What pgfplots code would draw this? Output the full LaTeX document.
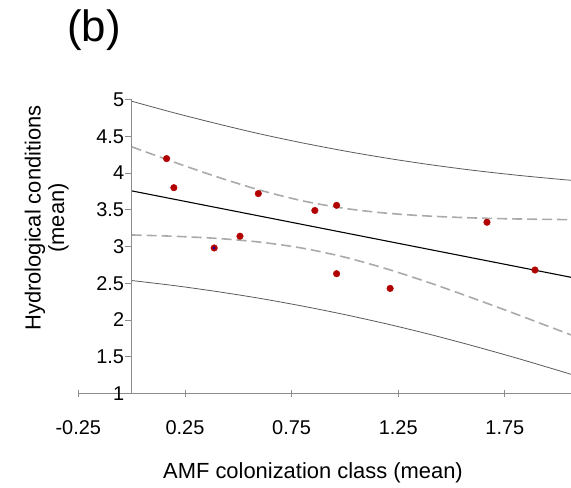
\documentclass[border=0pt]{standalone}
\usepackage{fontspec}
\setmainfont{Liberation Sans}
\usepackage{pgfplots}
\pgfplotsset{compat=1.18}

\definecolor{axisgray}{RGB}{140,140,140}
\definecolor{bandgray}{RGB}{90,90,90}
\definecolor{cigray}{RGB}{170,170,170}
\definecolor{dotred}{RGB}{178,0,0}

\begin{document}
\begin{tikzpicture}
\path[use as bounding box] (0,0) rectangle (571bp,488bp);
% x axis (horizontal line at y = 1, from -0.25)
\begin{axis}[
  at={(78.3bp,94.5bp)}, anchor=south west,
  scale only axis, width=492.7bp, height=294bp,
  xmin=-0.25, xmax=2.06, ymin=1, ymax=5,
  hide y axis, axis x line*=bottom,
  x axis line style={-, draw=axisgray, line width=0.8bp},
  tick align=center, major tick length=7bp,
  xtick style={draw=axisgray, line width=0.8bp},
  xtick={-0.25,0.25,0.75,1.25,1.75},
  xticklabels={-0.25,0.25,0.75,1.25,1.75},
  tick label style={font=\fontsize{20}{24}\selectfont},
  xticklabel style={yshift=-20bp},
  clip=false,
]
% axis line and ticks, drawn again so they show for sure
\draw[axisgray, line width=0.8bp] (axis cs:-0.25,1) -- (axis cs:2.06,1);
\pgfplotsinvokeforeach{-0.25,0.25,0.75,1.25,1.75}{
  \draw[axisgray, line width=0.8bp]
    ([yshift=-3.5bp]axis cs:#1,1) -- ([yshift=3.5bp]axis cs:#1,1);
}
% prediction band
\addplot[bandgray, line width=0.8bp, smooth] coordinates {
  (0,4.977)(0.2,4.818)(0.4,4.671)(0.6,4.533)(0.8,4.410)(1.0,4.299)
  (1.2,4.200)(1.4,4.113)(1.6,4.037)(1.8,3.972)(2.0,3.916)(2.06,3.901)};
\addplot[bandgray, line width=0.8bp, smooth] coordinates {
  (0,2.537)(0.2,2.468)(0.4,2.387)(0.6,2.295)(0.8,2.190)(1.0,2.073)
  (1.2,1.944)(1.4,1.803)(1.6,1.649)(1.8,1.486)(2.0,1.314)(2.06,1.261)};
% confidence band
\addplot[cigray, line width=1.6bp, dash pattern=on 10bp off 5bp, smooth] coordinates {
  (0,4.357)(0.2,4.147)(0.4,3.948)(0.6,3.768)(0.8,3.622)(1.0,3.518)
  (1.2,3.452)(1.4,3.413)(1.6,3.389)(1.8,3.375)(2.0,3.367)(2.06,3.365)};
\addplot[cigray, line width=1.6bp, dash pattern=on 10bp off 5bp, smooth] coordinates {
  (0,3.157)(0.2,3.139)(0.4,3.110)(0.6,3.060)(0.8,2.978)(1.0,2.854)
  (1.2,2.692)(1.4,2.503)(1.6,2.297)(1.8,2.083)(2.0,1.863)(2.06,1.797)};
% regression line
\addplot[black, line width=1.1bp] coordinates {(0,3.757)(2.06,2.581)};
% observations
\addplot[only marks, mark=*, mark size=3.3bp, draw=dotred, fill=dotred] coordinates {
  (0.164,4.196)(0.198,3.80)(0.594,3.72)(0.859,3.49)(0.961,3.56)(0.508,3.14)
  (0.387,2.98)(0.961,2.63)(1.212,2.43)(1.666,3.33)(1.891,2.68)};
\addplot[only marks, mark=*, mark size=1bp, draw=blue!70!black, fill=blue!70!black]
  coordinates {(0.387,2.98)};
\end{axis}
% y axis (vertical line at x = 0)
\begin{axis}[
  at={(131.6bp,94.5bp)}, anchor=south west,
  scale only axis, width=439.4bp, height=294bp,
  xmin=0, xmax=2.06, ymin=1, ymax=5,
  axis x line=none, axis y line=left,
  axis line style={-, draw=axisgray, line width=0.8bp},
  tick align=outside, major tick length=7bp,
  tick style={draw=axisgray, line width=0.8bp},
  ytick={1,1.5,2,2.5,3,3.5,4,4.5,5},
  yticklabels={1,1.5,2,2.5,3,3.5,4,4.5,5},
  tick label style={font=\fontsize{20}{24}\selectfont},
  yticklabel style={xshift=3bp},
]
\end{axis}
\node[font=\fontsize{44}{50}\selectfont] at (94bp,458bp) {(b)};
\node[rotate=90, align=center, font=\fontsize{22}{23.5}\selectfont] at (46.7bp,270bp)
  {Hydrological conditions\\(mean)};
\node[anchor=base, font=\fontsize{22}{26}\selectfont] at (313bp,10bp)
  {AMF colonization class (mean)};
\end{tikzpicture}
\end{document}
